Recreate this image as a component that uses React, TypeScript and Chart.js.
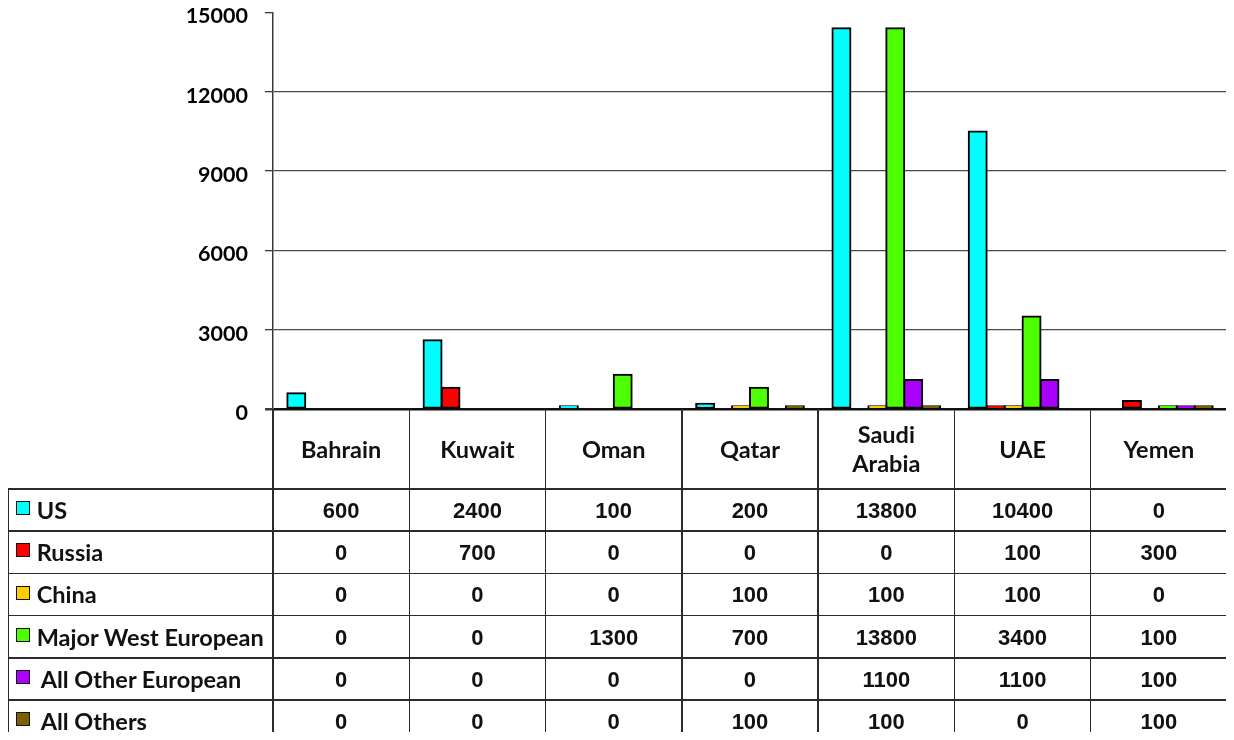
import React, { useEffect, useRef } from "react";
import { Chart, registerables } from "chart.js";

Chart.register(...registerables);

// ---- data ----
const categories = ["Bahrain", "Kuwait", "Oman", "Qatar", "Saudi Arabia", "UAE", "Yemen"];
const categoryLines = [["Bahrain"], ["Kuwait"], ["Oman"], ["Qatar"], ["Saudi", "Arabia"], ["UAE"], ["Yemen"]];
const seriesNames = ["US", "Russia", "China", "Major West European", "All Other European", "All Others"];
const seriesColors = ["#00FFFF", "#FF0000", "#FFCC00", "#4DFF00", "#AA00FF", "#7F6000"];

// bar heights as drawn in the chart
const usBars = [600, 2600, 100, 200, 14400, 10500, 0];
const russiaBars = [0, 800, 0, 0, 0, 100, 300];
const chinaBars = [0, 0, 0, 100, 100, 100, 0];
const westEuropeBars = [0, 0, 1300, 800, 14400, 3500, 100];
const otherEuropeBars = [0, 0, 0, 0, 1100, 1100, 100];
const othersBars = [0, 0, 0, 100, 100, 0, 100];

// values printed in the data table
const usTable = [600, 2400, 100, 200, 13800, 10400, 0];
const russiaTable = [0, 700, 0, 0, 0, 100, 300];
const chinaTable = [0, 0, 0, 100, 100, 100, 0];
const westEuropeTable = [0, 0, 1300, 700, 13800, 3400, 100];
const otherEuropeTable = [0, 0, 0, 0, 1100, 1100, 100];
const othersTable = [0, 0, 0, 100, 100, 0, 100];

const yTicks = [0, 3000, 6000, 9000, 12000, 15000];

const barSeries = [usBars, russiaBars, chinaBars, westEuropeBars, otherEuropeBars, othersBars];
const tableSeries = [usTable, russiaTable, chinaTable, westEuropeTable, otherEuropeTable, othersTable];

// ---- layout constants ----
const ROOT_W = 1219;
const ROOT_H = 732;
const AXIS_W = 265;
const COL_W = (ROOT_W - AXIS_W) / 7;
const TABLE_TOP = 401;
const HEAD_H = 80;
const ROW_H = 42.2;
const LINE = "#2b2b2b";
const LABEL_INDENT = [0, 0, 0, 0, 4, 4];

export default function App() {
  const canvasRef = useRef<HTMLCanvasElement | null>(null);

  useEffect(() => {
    let chart: Chart | null = null;
    let cancelled = false;
    const make = () => {
      if (cancelled || !canvasRef.current) return;
      chart = new Chart(canvasRef.current, {
        type: "bar",
        data: {
          labels: categories,
          datasets: seriesNames.map((name, i) => ({
            label: name,
            data: barSeries[i].map((v) => (v === 0 ? null : v)),
            backgroundColor: seriesColors[i],
            borderColor: "#000000",
            borderWidth: 2,
            borderSkipped: false,
            inflateAmount: 1,
            categoryPercentage: 0.79,
            barPercentage: 1.0,
          })),
        },
        options: {
          animation: false,
          responsive: true,
          maintainAspectRatio: false,
          layout: { padding: { top: 12.4, bottom: 13, left: 0, right: 0 } },
          plugins: { legend: { display: false }, tooltip: { enabled: false } },
          scales: {
            x: { display: false },
            y: {
              min: 0,
              max: 15000,
              afterBuildTicks: (scale: any) => {
                scale.ticks = yTicks.map((v) => ({ value: v }));
              },
              afterFit: (scale: any) => {
                scale.width = AXIS_W;
                scale.paddingTop = 0;
                scale.paddingBottom = 0;
              },
              border: { display: true, color: "#3a3a3a", width: 1.5 },
              grid: {
                drawTicks: true,
                tickLength: 8,
                tickColor: "#3a3a3a",
                color: (ctx: any) =>
                  ctx.tick && ctx.tick.value === 15000 ? "rgba(0,0,0,0)" : ctx.tick && ctx.tick.value === 0 ? "#111111" : "#4a4a4a",
                lineWidth: (ctx: any) => (ctx.tick && ctx.tick.value === 0 ? 2.5 : 1.3),
              },
              ticks: {
                padding: 17,
                labelOffset: 4,
                color: "#000000",
                font: { family: "Lato", weight: "bold", size: 21.5 },
                callback: (v: any) => String(v),
              },
            },
          },
        },
      });
    };
    const fontsReady = (document as any).fonts
      ? Promise.all([
          (document as any).fonts.load("bold 21px Lato"),
          (document as any).fonts.load("bold 22px 'Liberation Sans'"),
        ]).catch(() => null)
      : Promise.resolve(null);
    fontsReady.then(make);
    return () => {
      cancelled = true;
      if (chart) chart.destroy();
    };
  }, []);

  const hLines: number[] = [];
  for (let k = 0; k <= 6; k++) hLines.push(TABLE_TOP + HEAD_H + k * ROW_H);
  const vLines: number[] = [];
  for (let j = 0; j <= 7; j++) vLines.push(AXIS_W + j * COL_W);

  return (
    <div style={{ position: "relative", width: ROOT_W, height: ROOT_H, marginBottom: -8 }}>
      <div style={{ position: "absolute", left: 0, top: -8, width: ROOT_W, height: 422 }}>
        <canvas ref={canvasRef} />
      </div>

      {/* table grid lines */}
      {hLines
        .filter((y) => y < ROOT_H)
        .map((y, k) => (
          <div
            key={"h" + k}
            style={{ position: "absolute", left: 0, top: y - 0.75, width: ROOT_W + 0.75, height: 1.5, background: LINE }}
          />
        ))}
      <div
        style={{
          position: "absolute",
          left: -0.75,
          top: TABLE_TOP + HEAD_H,
          width: 1.5,
          height: ROOT_H - TABLE_TOP - HEAD_H,
          background: LINE,
        }}
      />
      {vLines.map((x, j) => (
        <div
          key={"v" + j}
          style={{ position: "absolute", left: x - 0.75, top: TABLE_TOP, width: 1.5, height: ROOT_H - TABLE_TOP, background: LINE }}
        />
      ))}

      {/* category header */}
      {categoryLines.map((lines, j) => (
        <div
          key={"c" + j}
          style={{
            position: "absolute",
            left: AXIS_W + j * COL_W,
            top: TABLE_TOP,
            width: COL_W,
            height: HEAD_H,
            display: "flex",
            flexDirection: "column",
            alignItems: "center",
            justifyContent: "center",
            fontFamily: "Lato, sans-serif",
            fontWeight: 700,
            fontSize: 23.5,
            lineHeight: "29px",
            color: "#111",
          }}
        >
          {lines.map((t, i) => (
            <div key={i}>{t}</div>
          ))}
        </div>
      ))}

      {/* series rows */}
      {seriesNames.map((name, i) => {
        const top = TABLE_TOP + HEAD_H + i * ROW_H;
        return (
          <React.Fragment key={"r" + i}>
            <div
              style={{
                position: "absolute",
                left: 8,
                top: top + ROW_H / 2 - 9,
                width: 12,
                height: 12,
                background: seriesColors[i],
                border: "1.5px solid #111",
              }}
            />
            <div
              style={{
                position: "absolute",
                left: 28.7 + LABEL_INDENT[i],
                top: top,
                height: ROW_H,
                display: "flex",
                alignItems: "center",
                fontFamily: "Lato, sans-serif",
                fontWeight: 700,
                fontSize: 23.5,
                color: "#111",
                whiteSpace: "nowrap",
              }}
            >
              {name}
            </div>
            {tableSeries[i].map((v, j) => (
              <div
                key={"t" + j}
                style={{
                  position: "absolute",
                  left: AXIS_W + j * COL_W,
                  top: top + 2,
                  width: COL_W,
                  height: ROW_H - 2,
                  display: "flex",
                  alignItems: "center",
                  justifyContent: "center",
                  fontFamily: "'Liberation Sans', Arial, sans-serif",
                  fontWeight: 700,
                  fontSize: 22,
                  color: "#111",
                }}
              >
                {String(v)}
              </div>
            ))}
          </React.Fragment>
        );
      })}
    </div>
  );
}
